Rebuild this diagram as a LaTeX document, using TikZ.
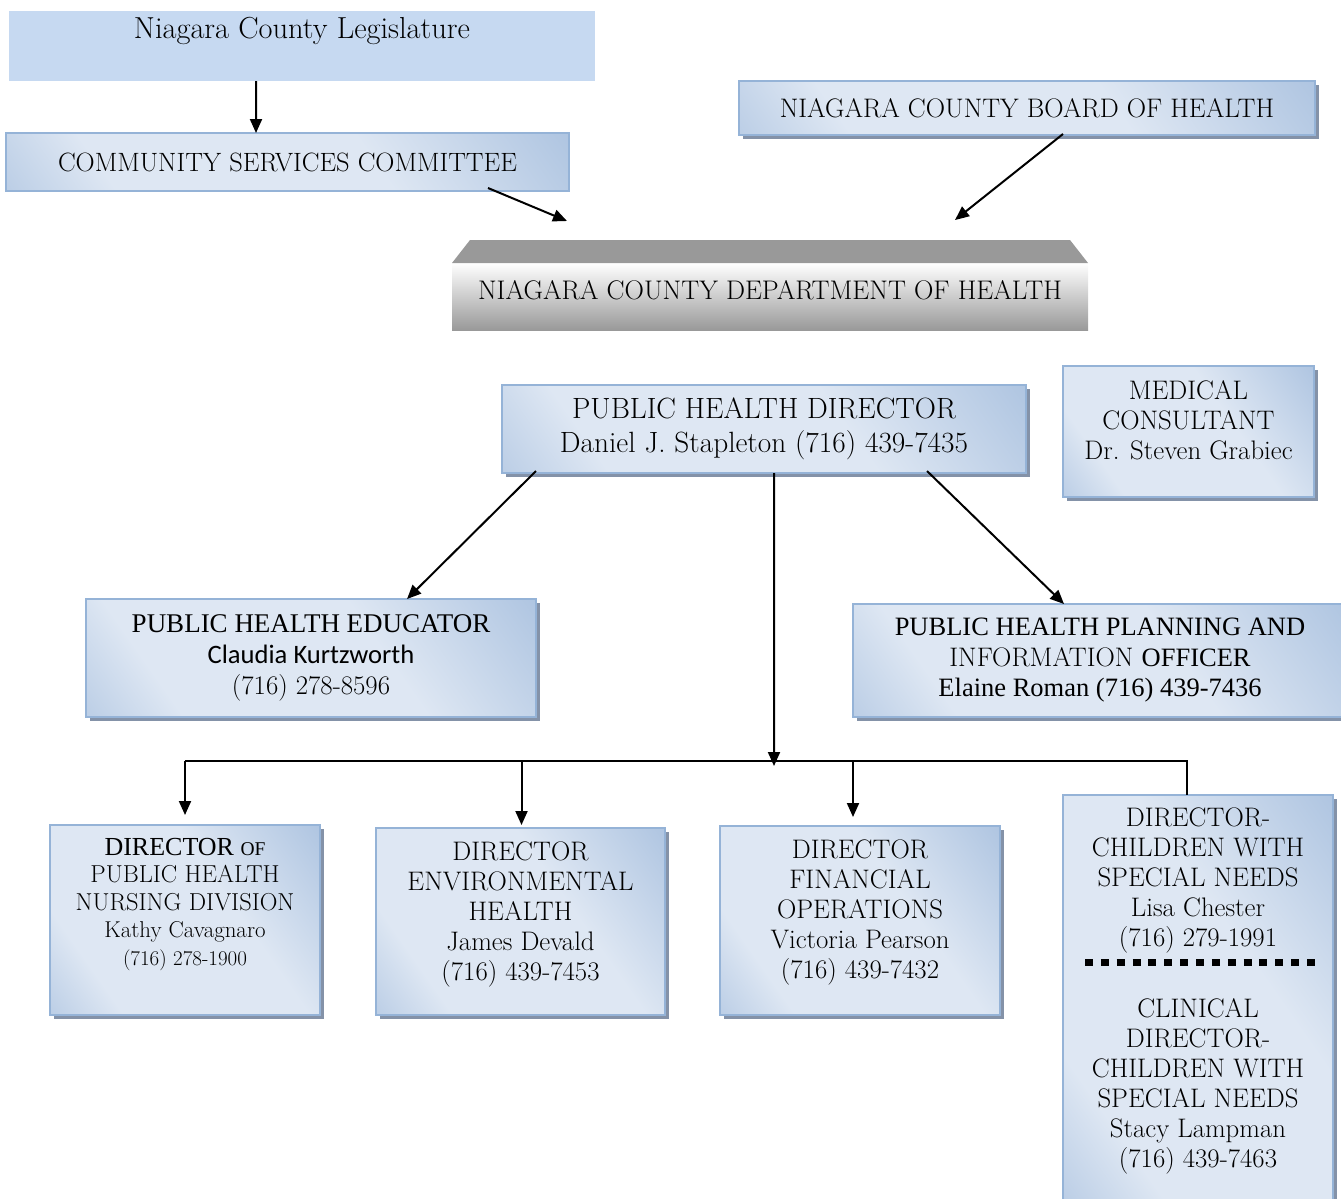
\documentclass[tikz,border=0pt]{standalone}
\usepackage{fontspec}
\usepackage{tikz}
\usetikzlibrary{arrows.meta,shadows}
\newfontfamily\timesfont{Liberation Serif}
\newfontfamily\calibrifont{Carlito}

\definecolor{legfill}{RGB}{198,217,241}
\definecolor{boxedge}{RGB}{149,179,215}
\definecolor{boxdark}{RGB}{146,176,214}
\definecolor{boxlight}{RGB}{222,231,243}
\definecolor{boxshadow}{RGB}{132,146,168}
\definecolor{dohgray}{RGB}{153,153,153}

\pgfdeclarehorizontalshading{boxgradient}{100bp}{color(0bp)=(boxdark); color(28bp)=(boxlight); color(60bp)=(boxlight); color(100bp)=(boxdark)}

\tikzset{
  bluebox/.style={draw=boxedge, line width=1.2bp, shading=boxgradient, shading angle=35, align=center, anchor=north west, font=\fontsize{26.8bp}{30bp}\selectfont},
  shadowed/.style={drop shadow={shadow xshift=4bp, shadow yshift=-4bp, fill=boxshadow, opacity=1}},
  arrowline/.style={draw=black, line width=2bp, -{Triangle[length=14bp,width=12bp]}},
  busline/.style={draw=black, line width=2bp},
  splitline/.style={draw=black, line width=7bp, dash pattern=on 8bp off 7.86bp},
}

\begin{document}
\begin{tikzpicture}[x=1bp,y=-1bp,inner sep=0pt,outer sep=0pt]
  \useasboundingbox (0,0) rectangle (1341,1198);

  % top of the chart
  \node[fill=legfill, minimum width=586bp, minimum height=70bp, anchor=north west] (leg) at (9,11) {};
  \node[font=\fontsize{30.4bp}{34bp}\selectfont] (legtext) at ([yshift=-20bp]leg.north) {Niagara County Legislature};
  \node[bluebox, minimum width=563bp, minimum height=58bp, font=\fontsize{26.5bp}{30bp}\selectfont] (csc) at (6,133) {COMMUNITY SERVICES COMMITTEE};
  \node[bluebox, shadowed, minimum width=576bp, minimum height=54bp] (board) at (739,81) {NIAGARA COUNTY BOARD OF HEALTH};

  \node[anchor=north west, minimum width=636bp, minimum height=67bp, top color=white, bottom color=dohgray, text depth=13bp, font=\fontsize{26.9bp}{30bp}\selectfont] (doh) at (452,263) {NIAGARA COUNTY DEPARTMENT OF HEALTH};
  \fill[dohgray] (doh.north west) -- ([xshift=18bp,yshift=23bp]doh.north west) -- ([xshift=-18bp,yshift=23bp]doh.north east) -- (doh.north east) -- cycle;

  \draw[arrowline] ([xshift=247bp]leg.south west) -- ([xshift=250bp]csc.north west);
  \draw[arrowline] ([xshift=-81bp,yshift=3bp]csc.south east) -- ([xshift=115bp,yshift=42bp]doh.north west);
  \draw[arrowline] ([xshift=36bp,yshift=1bp]board.south) -- ([xshift=-133bp,yshift=43bp]doh.north east);

  % director and staff
  \node[bluebox, shadowed, minimum width=524bp, minimum height=88bp, font=\fontsize{29.3bp}{34bp}\selectfont] (phd) at (502,385) {PUBLIC HEALTH DIRECTOR\\Daniel J. Stapleton (716) 439-7435};
  \node[bluebox, shadowed, minimum width=251bp, minimum height=131bp, text depth=22bp] (med) at (1063,366) {MEDICAL\\CONSULTANT\\Dr. Steven Grabiec};
  \node[bluebox, shadowed, minimum width=450bp, minimum height=118bp, font=\fontsize{26.8bp}{31bp}\selectfont] (edu) at (86,599) {{\timesfont\fontsize{27bp}{31bp}\selectfont PUBLIC HEALTH EDUCATOR}\\{\calibrifont\fontsize{26.6bp}{31bp}\selectfont Claudia Kurtzworth}\\(716) 278-8596};
  \node[bluebox, shadowed, minimum width=494bp, minimum height=113bp, font=\fontsize{26.8bp}{30.5bp}\selectfont] (plan) at (853,604) {{\timesfont\fontsize{26.5bp}{31bp}\selectfont PUBLIC HEALTH PLANNING AND}\\INFORMATION {\timesfont\fontsize{26.5bp}{31bp}\selectfont OFFICER}\\{\timesfont\fontsize{26.5bp}{31bp}\selectfont Elaine Roman (716) 439-7436}};

  \draw[arrowline] ([xshift=34bp,yshift=2bp]phd.south west) -- ([xshift=96bp]edu.north);
  \draw[arrowline] ([xshift=-99bp,yshift=2bp]phd.south east) -- ([xshift=211bp]plan.north west);

  % divisions
  \node[bluebox, shadowed, minimum width=270bp, minimum height=190bp, text depth=37bp, font=\fontsize{24.5bp}{27.5bp}\selectfont] (nurse) at (50,825) {{\timesfont\fontsize{26bp}{28bp}\selectfont DIRECTOR {\fontsize{19.5bp}{28bp}\selectfont OF}}\\PUBLIC HEALTH\\NURSING DIVISION\\{\fontsize{22.9bp}{28bp}\selectfont Kathy Cavagnaro}\\{\fontsize{21bp}{25bp}\selectfont (716) 278-1900}};
  \node[bluebox, shadowed, minimum width=289bp, minimum height=187bp, text depth=21bp] (env) at (376,828) {DIRECTOR\\ENVIRONMENTAL\\HEALTH\\James Devald\\(716) 439-7453};
  \node[bluebox, shadowed, minimum width=280bp, minimum height=189bp, text depth=23bp] (fin) at (720,826) {DIRECTOR\\FINANCIAL\\OPERATIONS\\Victoria Pearson\\(716) 439-7432};
  \node[bluebox, shadowed, minimum width=270bp, minimum height=405bp, text depth=20bp] (kids) at (1063,795) {DIRECTOR-\\CHILDREN WITH\\SPECIAL NEEDS\\Lisa Chester\\(716) 279-1991\\[41bp]CLINICAL\\DIRECTOR-\\CHILDREN WITH\\SPECIAL NEEDS\\Stacy Lampman\\(716) 439-7463};
  \draw[splitline] ([xshift=22bp,yshift=-167bp]kids.north west) -- ([xshift=252bp,yshift=-167bp]kids.north west);

  \coordinate (bus) at (774,761);
  \draw[arrowline] ([xshift=10bp]phd.south) -- ([yshift=-5bp]bus);
  \draw[busline] (nurse.north |- bus) -- ([xshift=-11bp]kids.north |- bus) -- ([xshift=-11bp]kids.north);
  \draw[arrowline] (nurse.north |- bus) -- ([yshift=10bp]nurse.north);
  \draw[arrowline] ([xshift=1bp]env.north |- bus) -- ([xshift=1bp,yshift=3bp]env.north);
  \draw[arrowline] ([xshift=-7bp]fin.north |- bus) -- ([xshift=-7bp,yshift=9bp]fin.north);
\end{tikzpicture}
\end{document}
